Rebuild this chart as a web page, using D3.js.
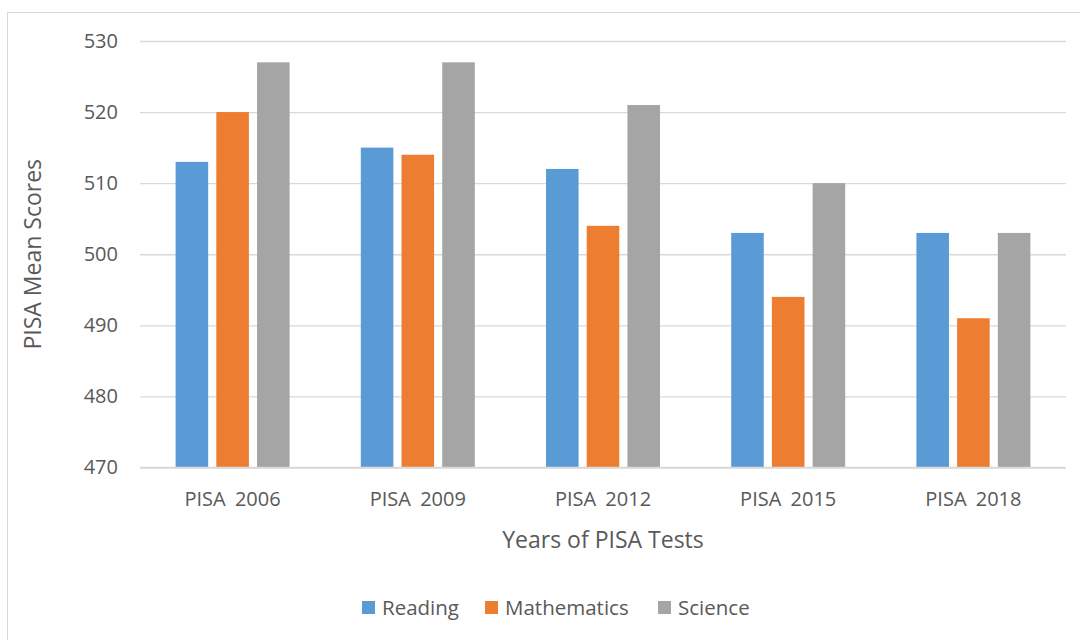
<!DOCTYPE html>
<html>
<head>
<meta charset="utf-8">
<script src="https://cdn.jsdelivr.net/npm/d3@7"></script>
<style>
	body { margin: 0; background: #fff; }
	text { font-family: "Open Sans", "Noto Sans", sans-serif; fill: #595959; }
</style>
</head>
<body>
<div id="chart"></div>
<script>
const categories = ['PISA 2006', 'PISA 2009', 'PISA 2012', 'PISA 2015', 'PISA 2018'];
const seriesNames = ['Reading', 'Mathematics', 'Science'];
const reading = [513, 515, 512, 503, 503];
const mathematics = [520, 514, 504, 494, 491];
const science = [527, 527, 521, 510, 503];
const yTicks = [470, 480, 490, 500, 510, 520, 530];
const colors = ['#5B9BD5', '#ED7D31', '#A5A5A5'];

const width = 1080, height = 640;
const margin = {top: 41, right: 14, bottom: 172, left: 140};
const values = [reading, mathematics, science];

const svg = d3.select('#chart')
	.append('svg')
	.attr('width', width)
	.attr('height', height);

// outer chart frame
svg.append('rect')
	.attr('x', 7.5)
	.attr('y', 12.5)
	.attr('width', 1200)
	.attr('height', 800)
	.attr('fill', 'none')
	.attr('stroke', '#d9d9d9');

const x0 = d3.scaleBand()
	.domain(categories)
	.range([margin.left, width - margin.right]);

const x1 = d3.scaleBand()
	.domain(seriesNames)
	.range([0, 114])
	.paddingInner(0.2);

const y = d3.scaleLinear()
	.domain([470, 530])
	.range([height - margin.bottom - 0.5, margin.top]);

// gridlines + y labels
const yAxis = d3.axisLeft(y)
	.tickValues(yTicks)
	.tickSize(-(width - margin.left - margin.right))
	.tickPadding(22)
	.tickFormat(d3.format('d'));

svg.append('g')
	.attr('transform', `translate(${margin.left},0)`)
	.call(yAxis)
	.call(g => g.select('.domain').remove())
	.call(g => g.selectAll('.tick line').attr('stroke', '#d9d9d9').attr('stroke-width', 1.3))
	.call(g => g.selectAll('.tick text').style('font-size', '20px').attr('fill', '#595959'));

// bars
const groupOffset = (x0.bandwidth() - 114) / 2;
const group = svg.append('g')
	.selectAll('g.group')
	.data(categories)
	.join('g')
	.attr('class', 'group')
	.attr('transform', d => `translate(${x0(d) + groupOffset},0)`);

group.selectAll('rect')
	.data((d, i) => seriesNames.map((s, j) => ({series: s, value: values[j][i], color: colors[j]})))
	.join('rect')
	.attr('x', d => x1(d.series))
	.attr('width', x1.bandwidth())
	.attr('y', d => y(d.value))
	.attr('height', d => y(470) - y(d.value))
	.attr('fill', d => d.color);

// x axis baseline
svg.append('line')
	.attr('x1', margin.left)
	.attr('x2', width - margin.right)
	.attr('y1', y(470))
	.attr('y2', y(470))
	.attr('stroke', '#d9d9d9')
	.attr('stroke-width', 1.5);

// category labels
svg.append('g')
	.selectAll('text')
	.data(categories)
	.join('text')
	.attr('x', d => x0(d) + x0.bandwidth() / 2)
	.attr('y', 506)
	.attr('text-anchor', 'middle')
	.style('font-size', '20px')
	.style('word-spacing', '4px')
	.text(d => d);

// axis titles
svg.append('text')
	.attr('x', (margin.left + width - margin.right) / 2)
	.attr('y', 548)
	.attr('text-anchor', 'middle')
	.style('font-size', '23px')
	.text('Years of PISA Tests');

svg.append('text')
	.attr('transform', `translate(41,${(y(470) + y(530)) / 2}) rotate(-90)`)
	.attr('text-anchor', 'middle')
	.style('font-size', '23px')
	.text('PISA Mean Scores');

// legend
const legendX = [362, 485, 658];
const legend = svg.append('g')
	.selectAll('g.legend')
	.data(seriesNames)
	.join('g')
	.attr('class', 'legend')
	.attr('transform', (d, i) => `translate(${legendX[i]},601)`);

legend.append('rect')
	.attr('width', 13)
	.attr('height', 13)
	.attr('fill', (d, i) => colors[i]);

legend.append('text')
	.attr('x', 20)
	.attr('y', 14)
	.style('font-size', '20.5px')
	.text(d => d);
</script>
</body>
</html>
